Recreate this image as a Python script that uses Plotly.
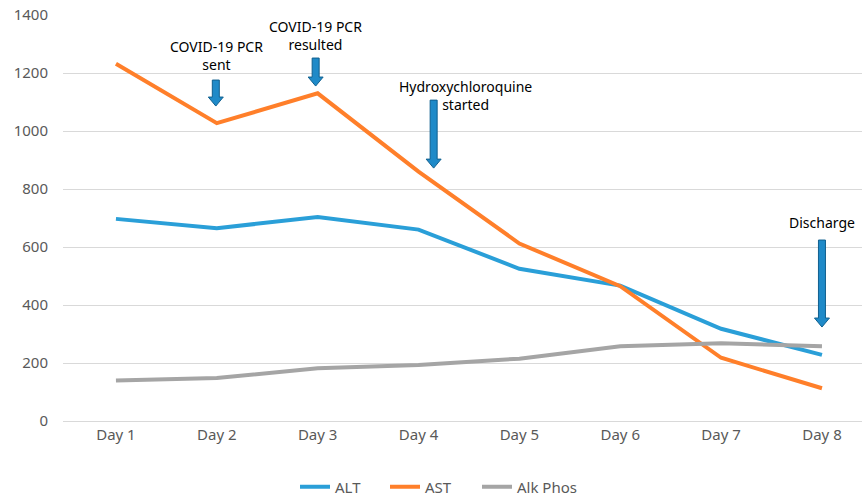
import plotly.graph_objects as go

days = ["Day 1", "Day 2", "Day 3", "Day 4", "Day 5", "Day 6", "Day 7", "Day 8"]
alt = [697, 665, 703, 660, 525, 467, 318, 228]
ast = [1232, 1027, 1130, 860, 612, 465, 218, 113]
alk = [140, 148, 182, 193, 215, 258, 268, 258]

events = ["COVID-19 PCR<br>sent", "COVID-19 PCR<br>resulted", "Hydroxychloroquine<br>started", "Discharge"]
event_text_x = [1, 1.98, 3.47, 7]
event_text_y = [1259, 1328, 1124, 683]
arrow_x = [0.99, 1.98, 3.15, 7.0]
arrow_tip_y = [1086, 1155, 872, 324]
arrow_len_px = [26, 28, 68, 87]

FONT = "Noto Sans, Calibri, sans-serif"
xs = list(range(len(days)))
fig = go.Figure()
fig.add_trace(go.Scatter(x=xs, y=alt, name="ALT", mode="lines", legend="legend", showlegend=True,
                         line=dict(color="#2A9FD8", width=4)))
fig.add_trace(go.Scatter(x=xs, y=ast, name="AST", mode="lines", legend="legend2", showlegend=True,
                         line=dict(color="#FF7F2A", width=4)))
fig.add_trace(go.Scatter(x=xs, y=alk, name="Alk Phos", mode="lines", legend="legend3", showlegend=True,
                         line=dict(color="#A5A5A5", width=4)))

shapes = []
annotations = []
for txt, tx, ty, ax, ay, L in zip(events, event_text_x, event_text_y, arrow_x, arrow_tip_y, arrow_len_px):
    hl = 9
    sw = 3.5
    hw = 7.5
    path = (f"M 0 0 L {-hw} {hl} L {-sw} {hl} L {-sw} {L} L {sw} {L} "
            f"L {sw} {hl} L {hw} {hl} Z")
    shapes.append(dict(type="path", xref="x", yref="y", xsizemode="pixel", ysizemode="pixel",
                       xanchor=ax, yanchor=ay, path=path,
                       fillcolor="#1F8AC8", line=dict(color="#10608F", width=1)))
    annotations.append(dict(x=tx, y=ty, xref="x", yref="y", text=txt, showarrow=False,
                            font=dict(family=FONT, size=14, color="#000000"),
                            align="center"))

def leg(xpx):
    return dict(orientation="h", xref="container", yref="container",
                x=xpx / 862, xanchor="left", y=0.02, yanchor="middle",
                bgcolor="rgba(0,0,0,0)",
                font=dict(size=15, color="#595959"))

fig.update_layout(
    width=862, height=497, showlegend=True,
    margin=dict(l=63, r=0, t=15, b=76),
    paper_bgcolor="white", plot_bgcolor="white",
    font=dict(family=FONT, size=15, color="#595959"),
    xaxis=dict(tickvals=xs, ticktext=days, range=[-0.525, 7.397], showgrid=False,
               showline=True, linecolor="#D9D9D9", linewidth=1, ticks="", zeroline=False,
               automargin=False, tickfont=dict(size=15)),
    yaxis=dict(range=[0, 1400], dtick=200, showgrid=True, gridcolor="#D9D9D9", gridwidth=1,
               zeroline=False, showline=False, ticks="", ticklabelstandoff=14,
               automargin=False, tickfont=dict(size=15)),
    legend=leg(302 - 7), legend2=leg(392 - 7), legend3=leg(484 - 7),
    shapes=shapes, annotations=annotations,
)
fig.write_html("out.html", config={"displayModeBar": False},
               post_script="document.body.style.margin='0';document.body.style.overflow='hidden';")
